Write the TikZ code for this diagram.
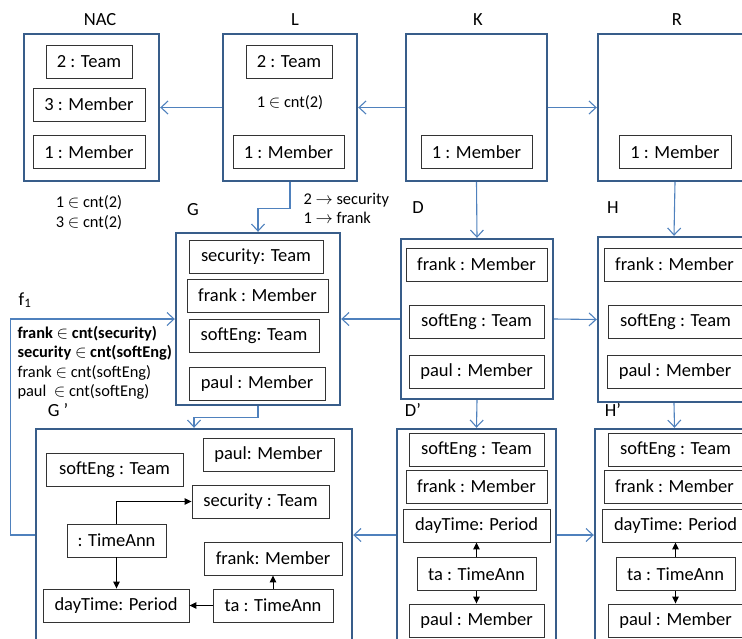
\documentclass[tikz,border=0pt]{standalone}
\usepackage{fontspec}
\setmainfont{Carlito}
\usetikzlibrary{arrows.meta, positioning}
\definecolor{gframe}{RGB}{56,93,138}
\definecolor{mline}{RGB}{79,129,189}

\begin{document}
\begin{tikzpicture}[x=1pt, y=-1pt,
  every node/.style={font=\fontsize{18.5}{22}\selectfont},
  grbox/.style={draw=gframe, line width=2.4pt, inner sep=0pt},
  obj/.style={draw=black!80, line width=0.9pt, minimum height=33pt, inner xsep=2pt, inner ysep=0pt},
  morph/.style={draw=mline, line width=1.1pt, -{Straight Barb[length=7pt,width=13pt]}},
  link/.style={draw=black, line width=1pt, -{Triangle[length=7pt,width=6.5pt]}},
  note/.style={font=\fontsize{16.4}{19.5}\selectfont, align=left}]
\useasboundingbox (0,0) rectangle (742,638);
\clip (0,0) rectangle (742,638);

% rule: NAC <- L <- K -> R
\node (nacname) at (100,20) {NAC};
\node (lname) at (295,20) {L};
\node (kname) at (478,20) {K};
\node (rname) at (677,20) {R};
\node[grbox, minimum width=135pt, minimum height=147pt] (nac) at (91.5,107.5) {};
\node[grbox, minimum width=134pt, minimum height=147pt] (lhs) at (290,107.5) {};
\node[grbox, minimum width=141pt, minimum height=147pt] (kgr) at (476.5,107.5) {};
\node[grbox, minimum width=154pt, minimum height=147pt] (rhs) at (675,107.5) {};
\node[obj, minimum width=86pt] (team2n) at (89,62) {2 : Team};
\node[obj, minimum width=112pt] (mem3n) at (89,104.5) {3 : Member};
\node[obj, minimum width=112pt] (mem1n) at (89,152) {1 : Member};
\node[obj, minimum width=86pt] (team2l) at (289,62) {2 : Team};
\node[note] (cntl) at (290,103) {1 $\in$ cnt(2)};
\node[obj, minimum width=111pt] (mem1l) at (288.5,152) {1 : Member};
\node[obj, minimum width=111pt] (mem1k) at (476.5,152) {1 : Member};
\node[obj, minimum width=112pt] (mem1r) at (675,152) {1 : Member};
\node[note, align=center] (cntnac) at (89,212.5) {1 $\in$ cnt(2)\\3 $\in$ cnt(2)};
\node[note, anchor=west] (match) at (300,208.5) {2 $\rightarrow$ security\\1 $\rightarrow$ frank};

% G, D, H
\node (gname) at (193,210) {G};
\node (dname) at (418,208) {D};
\node (hname) at (613,208) {H};
\node[grbox, minimum width=164pt, minimum height=172pt] (g) at (258,319) {};
\node[grbox, minimum width=152pt, minimum height=160pt] (d) at (477,319) {};
\node[grbox, minimum width=152pt, minimum height=165pt] (h) at (674,319.5) {};
\node[obj, minimum width=134pt] (secg) at (256,257) {security: Team};
\node[obj, minimum width=141pt] (frankg) at (257.5,295.5) {frank : Member};
\node[obj, minimum width=130pt] (softg) at (254,335.5) {softEng: Team};
\node[obj, minimum width=136pt] (paulg) at (257,383.5) {paul : Member};
\node[obj, minimum width=141pt] (frankd) at (476.5,264.5) {frank : Member};
\node[obj, minimum width=135pt] (softd) at (476.5,321.5) {softEng : Team};
\node[obj, minimum width=135pt] (pauld) at (476.5,372) {paul : Member};
\node[obj, minimum width=141pt] (frankh) at (674.5,264.5) {frank : Member};
\node[obj, minimum width=135pt] (softh) at (675.5,321.5) {softEng : Team};
\node[obj, minimum width=136pt] (paulh) at (675,372) {paul : Member};

% G', D', H'
\node (f1name) at (25,300) {f\textsubscript{1}};
\node[note, anchor=west] (cnts) at (14,363) {\textbf{frank $\in$ cnt(security)}\\\textbf{security $\in$ cnt(softEng)}\\frank $\in$ cnt(softEng)\\paul\ \ $\in$ cnt(softEng)};
\node (gpname) at (58,410) {G '};
\node (dpname) at (413,410) {D'};
\node (hpname) at (613,410) {H'};
\node[grbox, minimum width=316pt, minimum height=212pt] (gp) at (194,535) {};
\node[grbox, minimum width=159pt, minimum height=212pt] (dp) at (476.5,535) {};
\node[grbox, minimum width=159pt, minimum height=212pt] (hp) at (674.5,535) {};
\node[obj, minimum width=131pt] (paulgp) at (268.5,454.5) {paul: Member};
\node[obj, minimum width=137pt] (softgp) at (114.5,469.5) {softEng : Team};
\node[obj, minimum width=137pt] (secgp) at (260.5,501.5) {security : Team};
\node[obj, minimum width=99pt] (tanngp) at (116.5,540.5) {: TimeAnn};
\node[obj, minimum width=138pt] (frankgp) at (273,558.5) {frank: Member};
\node[obj, minimum width=146pt] (daygp) at (116,605.5) {dayTime: Period};
\node[obj, minimum width=120pt] (tagp) at (273,605.5) {ta : TimeAnn};
\node[obj, minimum width=135pt] (softdp) at (476.5,449.5) {softEng : Team};
\node[obj, minimum width=141pt] (frankdp) at (476.5,486.5) {frank : Member};
\node[obj, minimum width=147pt] (daydp) at (476.5,525.5) {dayTime: Period};
\node[obj, minimum width=119pt] (tadp) at (476.5,574) {ta : TimeAnn};
\node[obj, minimum width=135pt] (pauldp) at (476.5,620.5) {paul : Member};
\node[obj, minimum width=135pt] (softhp) at (675.5,449.5) {softEng : Team};
\node[obj, minimum width=141pt] (frankhp) at (674.5,486.5) {frank : Member};
\node[obj, minimum width=147pt] (dayhp) at (675.5,525.5) {dayTime: Period};
\node[obj, minimum width=119pt] (tahp) at (675.5,574) {ta : TimeAnn};
\node[obj, minimum width=135pt] (paulhp) at (675.5,620.5) {paul : Member};

% morphisms
\draw[morph] (lhs.west) -- (nac.east);
\draw[morph] (kgr.west) -- (lhs.east);
\draw[morph] (kgr.east) -- (rhs.west);
\draw[morph] (lhs.south) -- ++(0,26) -| (g.north);
\draw[morph] (kgr.south) -- (d.north);
\draw[morph] (rhs.south) -- (h.north);
\draw[morph] (d.west) -- (g.east);
\draw[morph] (d.east) -- (h.west);
\draw[morph] (g.south) -- ++(0,11) -| (gp.north);
\draw[morph] (d.south) -- (dp.north);
\draw[morph] (h.south) -- (hp.north);
\draw[morph] (dp.west) -- (gp.east);
\draw[morph] (dp.east) -- (hp.west);
\draw[morph] (gp.west) -- ++(-24,0) |- (g.west);

% edges
\draw[link] (tanngp.north) |- (secgp.west);
\draw[link] (tanngp.south) -- (tanngp.south |- daygp.north);
\draw[link] (tagp.west) -- (daygp.east);
\draw[link] (tagp.north) -- (frankgp.south);
\draw[link] (tadp.north) -- (daydp.south);
\draw[link] (tadp.south) -- (pauldp.north);
\draw[link] (tahp.north) -- (tahp.north |- dayhp.south);
\draw[link] (tahp.south) -- (tahp.south |- paulhp.north);
\end{tikzpicture}
\end{document}
